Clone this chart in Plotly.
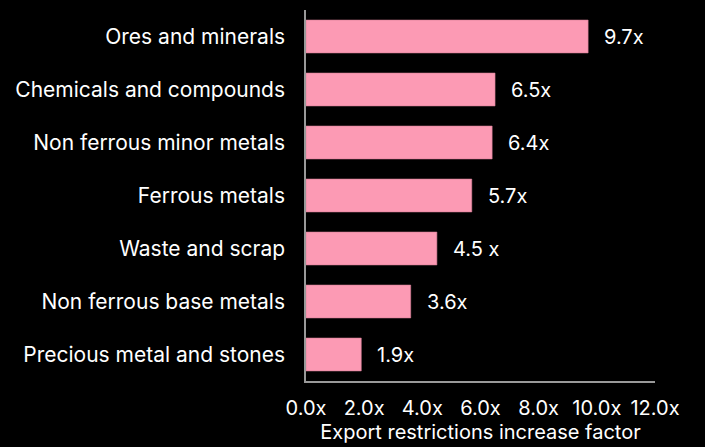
import plotly.graph_objects as go

categories = ["Ores and minerals", "Chemicals and compounds", "Non ferrous minor metals",
              "Ferrous metals", "Waste and scrap", "Non ferrous base metals",
              "Precious metal and stones"]
values = [9.7, 6.5, 6.4, 5.7, 4.5, 3.6, 1.9]
labels = ["9.7x", "6.5x", "6.4x", "5.7x", "4.5 x", "3.6x", "1.9x"]
tick_vals = [0, 2, 4, 6, 8, 10, 12]
tick_text = ["0.0x", "2.0x", "4.0x", "6.0x", "8.0x", "10.0x", "12.0x"]

FONT = "Inter, Noto Sans, sans-serif"

fig = go.Figure(go.Bar(
    x=values, y=categories, orientation="h",
    marker=dict(color="#FC9AB4", line=dict(color="#D98098", width=0.6)),
    width=0.62,
))

for c, v, t in zip(categories, values, labels):
    fig.add_annotation(x=v, y=c, text=t, showarrow=False, xanchor="left",
                       xshift=14, font=dict(color="white", size=20, family=FONT))

fig.update_layout(
    width=705, height=447,
    paper_bgcolor="black", plot_bgcolor="black",
    margin=dict(l=306, r=50, t=10, b=64),
    showlegend=False,
    font=dict(family=FONT, color="white", size=20),
)
fig.update_xaxes(range=[0, 12], tickvals=tick_vals, ticktext=tick_text,
                 showgrid=False, zeroline=False, showline=True, linecolor="#999999",
                 linewidth=1.5, ticks="", ticklabelstandoff=8,
                 tickfont=dict(size=20, color="white"),
                 title=dict(text="Export restrictions increase factor", standoff=3,
                            font=dict(size=20, color="white")))
fig.update_yaxes(categoryorder="array", categoryarray=categories[::-1],
                 showgrid=False, zeroline=False, showline=True, linecolor="#999999",
                 linewidth=1.5, ticks="", ticklabelstandoff=15,
                 tickfont=dict(size=21, color="white"))

fig.write_html("out.html", config={"displayModeBar": False})
with open("out.html", "r", encoding="utf-8") as f:
    html = f.read()
html = html.replace("<head>", "<head><style>html,body{margin:0;padding:0;background:#000;}</style>", 1)
with open("out.html", "w", encoding="utf-8") as f:
    f.write(html)
